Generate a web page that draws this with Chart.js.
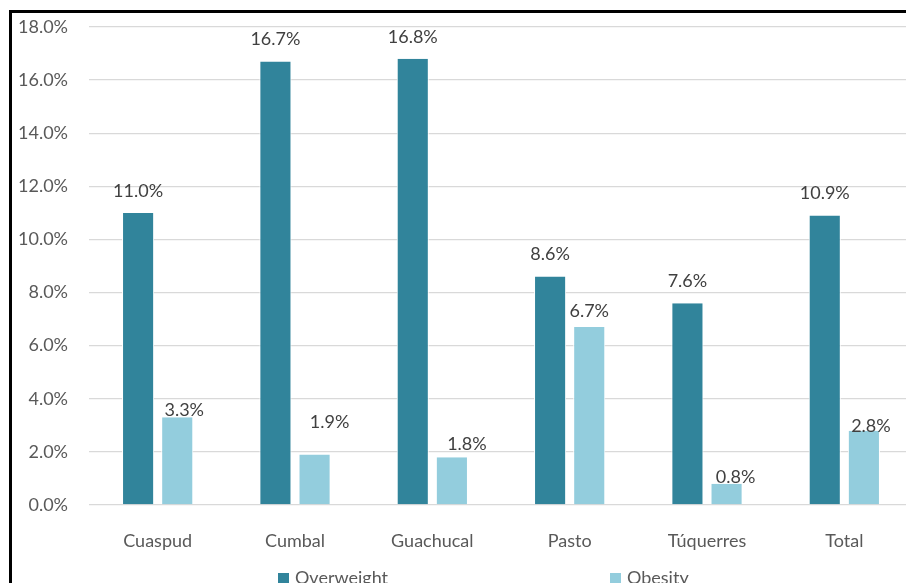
<!DOCTYPE html>
<html>
<head>
    <meta charset="UTF-8">
    <title>Overweight and Obesity by Municipality</title>
    <script src="https://cdn.jsdelivr.net/npm/chart.js@4.4.1/dist/chart.umd.min.js"></script>
    <style>
        html, body { margin: 0; padding: 0; overflow: hidden; background: #fff; }
        #frame { position: absolute; left: 9px; top: 10px; width: 910px; height: 600px; border: 3px solid #000; }
        canvas { display: block; }
    </style>
</head>
<body>
<div id="frame">
    <canvas id="bmiChart" width="910" height="600"></canvas>
</div>

<script>
    // Values (percent).
    var municipalities = ['Cuaspud', 'Cumbal', 'Guachucal', 'Pasto', 'Túquerres', 'Total'];
    var overweight = [11.0, 16.7, 16.8, 8.6, 7.6, 10.9];
    var obesity = [3.3, 1.9, 1.8, 6.7, 0.8, 2.8];
    var yTicks = [0, 2, 4, 6, 8, 10, 12, 14, 16, 18];

    // The obesity labels were dragged around by hand in the original.
    var obesityLabelNudge = [[7, 15], [15, -10], [15, 9], [0, 6], [9, 15], [7, 18]];

    var FONT = 'Lato, "Open Sans", sans-serif';
    var darkTeal = '#31849B';
    var lightTeal = '#93CDDD';

    // Draws the value above each bar.
    var valueLabels = {
        id: 'valueLabels',
        afterDatasetsDraw: function(chart) {
            var ctx = chart.ctx;
            ctx.save();
            ctx.font = '18px ' + FONT;
            ctx.fillStyle = '#404040';
            ctx.textAlign = 'center';
            ctx.textBaseline = 'middle';
            chart.data.datasets.forEach(function(ds, i) {
                chart.getDatasetMeta(i).data.forEach(function(bar, j) {
                    var dx = 0, dy = -22;
                    if (i === 1) {
                        dx = obesityLabelNudge[j][0];
                        dy = -22 + obesityLabelNudge[j][1];
                    }
                    ctx.fillText(ds.data[j].toFixed(1) + '%', bar.x + dx, bar.y + dy);
                });
            });
            ctx.restore();
        }
    };

    // Excel style legend with wide spacing, under the axis labels.
    var wideLegend = {
        id: 'wideLegend',
        afterDraw: function(chart) {
            var ctx = chart.ctx;
            var area = chart.chartArea;
            var mid = (area.left + area.right) / 2;
            var starts = [mid - 223, mid + 109];
            var y = area.bottom + 73;
            ctx.save();
            ctx.font = '18px ' + FONT;
            ctx.textBaseline = 'middle';
            ctx.textAlign = 'left';
            chart.data.datasets.forEach(function(ds, i) {
                ctx.fillStyle = ds.backgroundColor;
                ctx.fillRect(starts[i], y - 5, 11, 11);
                ctx.fillStyle = '#595959';
                ctx.fillText(ds.label, starts[i] + 17, y);
            });
            ctx.restore();
        }
    };

    var ctx = document.getElementById('bmiChart').getContext('2d');
    var bmiChart = new Chart(ctx, {
        type: 'bar',
        data: {
            labels: municipalities,
            datasets: [{
                label: 'Overweight',
                data: overweight,
                backgroundColor: darkTeal,
                borderColor: '#ffffff',
                borderWidth: { left: 1, right: 1, top: 0, bottom: 0 },
                categoryPercentage: 0.57,
                barPercentage: 0.82
            }, {
                label: 'Obesity',
                data: obesity,
                backgroundColor: lightTeal,
                borderColor: '#ffffff',
                borderWidth: { left: 1, right: 1, top: 0, bottom: 0 },
                categoryPercentage: 0.57,
                barPercentage: 0.82
            }]
        },
        options: {
            responsive: false,
            animation: false,
            layout: { padding: { left: 0, right: 9, top: 14, bottom: 48 }, autoPadding: false },
            plugins: {
                legend: { display: false },
                tooltip: { enabled: false }
            },
            scales: {
                x: {
                    grid: { display: false },
                    border: { display: false },
                    ticks: {
                        color: '#595959',
                        font: { family: FONT, size: 18 },
                        padding: 17
                    },
                    afterFit: function(s) { s.height = 60; }
                },
                y: {
                    min: 0,
                    max: 18,
                    afterBuildTicks: function(s) {
                        s.ticks = yTicks.map(function(v) { return { value: v }; });
                    },
                    grid: { color: '#D9D9D9', lineWidth: 1.3, drawTicks: false },
                    border: { display: false },
                    ticks: {
                        color: '#595959',
                        font: { family: FONT, size: 18 },
                        padding: 21,
                        callback: function(v) { return v.toFixed(1) + '%'; }
                    },
                    afterFit: function(s) {
                        s.width = 77;
                        s.paddingTop = 0;
                        s.paddingBottom = 0;
                    }
                }
            }
        },
        plugins: [valueLabels, wideLegend]
    });
</script>
</body>
</html>
